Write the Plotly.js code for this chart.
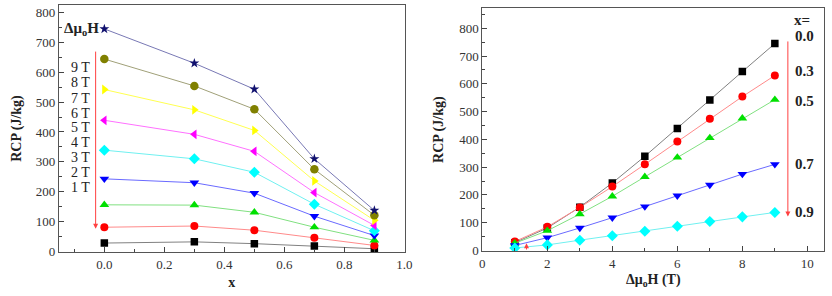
<!DOCTYPE html>
<html><head><meta charset="utf-8">
<script src="https://cdn.plot.ly/plotly-3.0.1.min.js"></script>
<style>html,body{margin:0;padding:0;background:#fff}#chart{width:832px;height:296px}</style>
</head><body><div id="chart"></div>
<script>
// Composition x and applied field values
const xComp = [0.0, 0.3, 0.5, 0.7, 0.9];
const fields = [1, 2, 3, 4, 5, 6, 7, 8, 9];
const fieldLabels = ['1 T','2 T','3 T','4 T','5 T','6 T','7 T','8 T','9 T'];
const compLabels = ['0.0','0.3','0.5','0.7','0.9'];
// RCP (J/kg) for each field, at x = 0.0, 0.3, 0.5, 0.7, 0.9
const rcp1T = [28, 32, 26, 18, 9];
const rcp2T = [81, 85, 71, 46, 20];
const rcp3T = [156, 155, 131, 81, 37];
const rcp4T = [243, 230, 195, 118, 53];
const rcp5T = [339, 310, 265, 158, 69];
const rcp6T = [439, 392, 335, 197, 87];
const rcp7T = [542, 474, 405, 236, 104];
const rcp8T = [644, 554, 476, 275, 121];
const rcp9T = [745, 630, 543, 310, 137];
const rcpByField = [rcp1T, rcp2T, rcp3T, rcp4T, rcp5T, rcp6T, rcp7T, rcp8T, rcp9T];

const markerColors = ['#000000','#ff0000','#00e000','#0000ff','#00ffff','#ff00ff','#ffff00','#808000','#10106e'];
const lineColors = ['#808080','#ff8a8a','#80e080','#6a6aff','#70f0f0','#ff70ff','#ffff50','#a0a078','#7878b4'];
const symbols = ['square','circle','triangle-up','triangle-down','diamond','triangle-left','triangle-right','circle','star'];
const sizes = [7.5, 8, 8.5, 8.5, 8.5, 8.5, 8.5, 8.5, 7.5];

const FONT = '"Liberation Serif", "Times New Roman", serif';
const traces = [];
rcpByField.forEach((vals, i) => {
  traces.push({
    x: xComp, y: vals, xaxis: 'x', yaxis: 'y', type: 'scatter', mode: 'lines+markers',
    name: fieldLabels[i], showlegend: false,
    line: {color: lineColors[i], width: 1},
    marker: {symbol: symbols[i], color: markerColors[i], size: sizes[i]}
  });
});
xComp.forEach((xc, j) => {
  traces.push({
    x: fields, y: rcpByField.map(v => v[j]), xaxis: 'x2', yaxis: 'y2', type: 'scatter', mode: 'lines+markers',
    name: 'x=' + compLabels[j], showlegend: false,
    line: {color: lineColors[j], width: 1},
    marker: {symbol: symbols[j], color: markerColors[j], size: sizes[j]}
  });
});

const axBase = {
  showgrid: false, zeroline: false, showline: true, mirror: true,
  linecolor: '#555', linewidth: 1, ticks: 'inside', ticklen: 5, tickcolor: '#444',
  tickfont: {family: FONT, size: 13, color: '#333'}
};
const titleFont = {family: FONT, size: 14, color: '#222'};

const annotations = [];
annotations.push({xref:'x', yref:'y', x:-0.012, y:745, xanchor:'right', yanchor:'middle', showarrow:false,
  text:'<b>Δμ<sub>o</sub>H</b>', font:{family:FONT, size:15, color:'#222'}});
const leftLabelY = [213, 263, 313, 363, 415, 463, 513, 565, 615];
fieldLabels.forEach((t, i) => {
  annotations.push({xref:'x', yref:'y', x:-0.081, y:leftLabelY[i], showarrow:false, text:t,
    font:{family:FONT, size:14, color:'#222'}});
});
annotations.push({xref:'x', yref:'y', x:-0.029, y:76, ax:-0.029, ay:674, axref:'x', ayref:'y',
  showarrow:true, arrowcolor:'#ff4040', arrowwidth:1, arrowhead:2, arrowsize:1, text:''});
annotations.push({xref:'x2', yref:'y2', x:9.4, y:122, ax:9.4, ay:758, axref:'x2', ayref:'y2',
  showarrow:true, arrowcolor:'#ff4040', arrowwidth:1, arrowhead:2, arrowsize:1, text:''});
annotations.push({xref:'x2', yref:'y2', x:1.36, y:26, ax:1.36, ay:-2, axref:'x2', ayref:'y2',
  showarrow:true, arrowcolor:'#ff4040', arrowwidth:1, arrowhead:2, arrowsize:1, text:''});
const rightLabelY = [772, 647, 537, 312, 140];
annotations.push({xref:'x2', yref:'y2', x:9.85, y:830, showarrow:false, text:'<b>x=</b>',
  font:{family:FONT, size:15, color:'#222'}});
compLabels.forEach((t, j) => {
  annotations.push({xref:'x2', yref:'y2', x:9.9, y:rightLabelY[j], showarrow:false, text:'<b>'+t+'</b>',
    font:{family:FONT, size:15, color:'#222'}});
});

const layout = {
  width: 832, height: 296, margin: {l:0, r:0, t:0, b:0},
  paper_bgcolor: '#fff', plot_bgcolor: '#fff', showlegend: false,
  xaxis: Object.assign({}, axBase, {domain:[0.0706, 0.4862], range:[-0.152, 1.0005], dtick:0.2, tick0:0,
    tickformat:'.1f', minor:{ticks:'inside', ticklen:3, dtick:0.1, tick0:0, tickcolor:'#444'},
    title:{text:'<b>x</b>', font:titleFont, standoff:6}}),
  yaxis: Object.assign({}, axBase, {domain:[0.1486, 0.9831], range:[-2, 825], dtick:100,
    minor:{ticks:'inside', ticklen:3, dtick:50, tickcolor:'#444'},
    title:{text:'<b>RCP (J/kg)</b>', font:titleFont, standoff:10}}),
  xaxis2: Object.assign({}, axBase, {anchor:'y2', domain:[0.5797, 0.9907], range:[0, 10.52], dtick:2,
    minor:{ticks:'inside', ticklen:3, dtick:1, tickcolor:'#444'},
    title:{text:'<b>Δμ<sub>o</sub>H (T)</b>', font:titleFont, standoff:4}}),
  yaxis2: Object.assign({}, axBase, {anchor:'x2', domain:[0.152, 0.972], range:[-2, 872], dtick:100,
    minor:{ticks:'inside', ticklen:3, dtick:50, tickcolor:'#444'},
    title:{text:'<b>RCP (J/kg)</b>', font:titleFont, standoff:12}}),
  annotations: annotations
};
Plotly.newPlot('chart', traces, layout, {displayModeBar:false, staticPlot:true});
</script></body></html>
